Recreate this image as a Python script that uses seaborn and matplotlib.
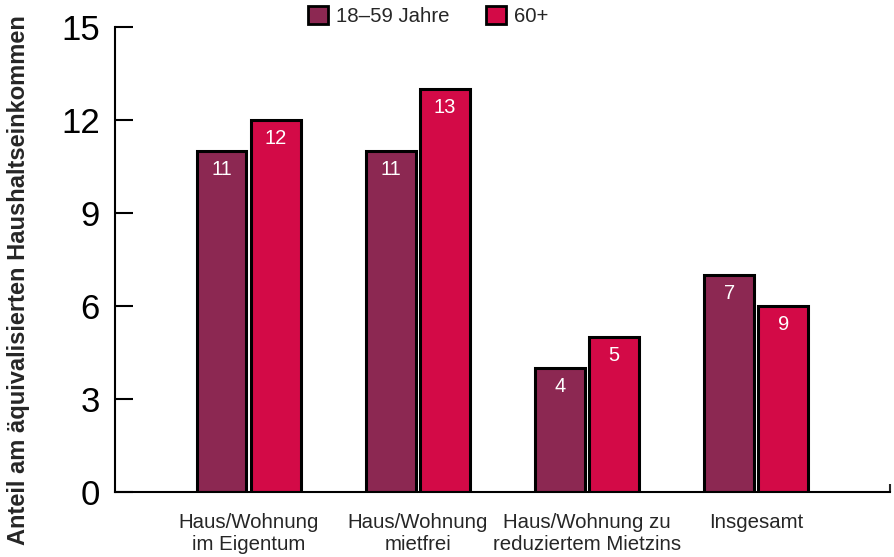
import numpy as np
import pandas as pd
import seaborn as sns
import matplotlib.pyplot as plt
from matplotlib.patches import Patch

# data
kategorien = ["Haus/Wohnung\nim Eigentum", "Haus/Wohnung\nmietfrei",
              "Haus/Wohnung zu\nreduziertem Mietzins", "Insgesamt"]
gruppen = ["18–59 Jahre", "60+"]
werte_jung = [11, 11, 4, 7]
werte_alt = [12, 13, 5, 6]
labels_jung = ["11", "11", "4", "7"]
labels_alt = ["12", "13", "5", "9"]
farben = ["#8c2852", "#d30a47"]
y_ticks = [0, 3, 6, 9, 12, 15]

df = pd.DataFrame({
    "kategorie": kategorien * 2,
    "gruppe": [gruppen[0]] * len(kategorien) + [gruppen[1]] * len(kategorien),
    "anteil": werte_jung + werte_alt,
})

sns.set_style("white")
plt.rcParams["font.family"] = ["Liberation Sans", "DejaVu Sans"]

fig = plt.figure(figsize=(8.94, 5.57), dpi=100)
ax = fig.add_axes([0.1286, 0.1167, 0.8669, 0.8348])

sns.barplot(data=df, x="kategorie", y="anteil", hue="gruppe", palette=farben,
            saturation=1, width=0.64, gap=0.08, edgecolor="black",
            linewidth=2.2, legend=False, ax=ax)

for cont, labs in zip(ax.containers, [labels_jung, labels_alt]):
    ax.bar_label(cont, labels=labs, padding=-20, color="white", fontsize=14.5)

ax.set_xlim(-0.79, 3.79)
ax.set_ylim(0, 15)
ax.set_yticks(y_ticks)
ax.set_yticklabels([str(t) for t in y_ticks])
ax.tick_params(axis="y", direction="in", length=13, width=1.5, pad=11,
               labelsize=25, left=True, colors="black")
ax.tick_params(axis="x", length=0, pad=15, labelsize=14.7)
ax.set_xticks(range(len(kategorien)))
ax.set_xticklabels(kategorien, linespacing=1.2)

# small closing tick at the right end of the x axis
ax.set_xticks([3.79], minor=True)
ax.tick_params(axis="x", which="minor", direction="in", length=6, width=1.5,
               bottom=True)

for s in ["top", "right"]:
    ax.spines[s].set_visible(False)
for s in ["left", "bottom"]:
    ax.spines[s].set_color("black")
    ax.spines[s].set_linewidth(1.5)

ax.set_xlabel("")
ax.set_ylabel("Anteil am äquivalisierten Haushaltseinkommen",
              fontsize=17, fontweight="bold")
ax.yaxis.set_label_coords(-0.110, 0.456)

handles = [Patch(facecolor=c, edgecolor="black", linewidth=2) for c in farben]
fig.legend(handles, gruppen, loc="center", bbox_to_anchor=(0.479, 0.971),
           ncol=2, frameon=False, fontsize=14.7, handlelength=0.95,
           handleheight=0.95, handletextpad=0.4, columnspacing=1.8)

fig.savefig("out.png", dpi=100)
